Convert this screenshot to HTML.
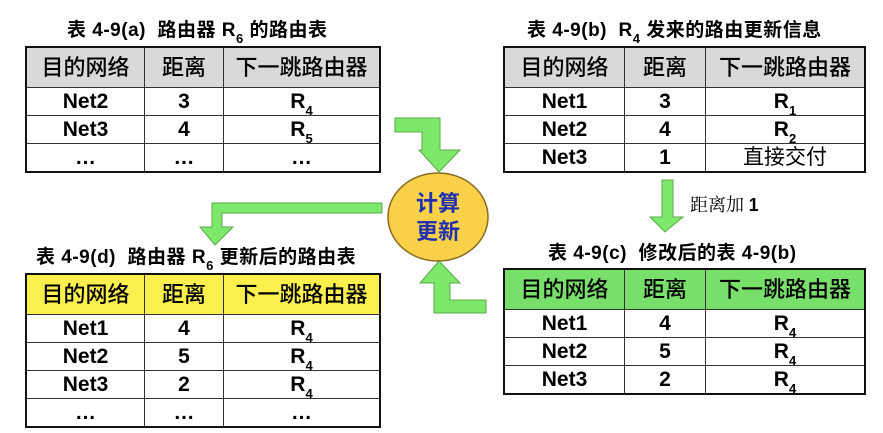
<!DOCTYPE html>
<html><head><meta charset="utf-8"><style>
body{margin:0;width:883px;height:433px;background:#fff;position:relative;overflow:hidden;font-family:"Liberation Sans","Noto Sans CJK SC",sans-serif;}
.t{position:absolute;border-collapse:collapse;border:2px solid #111;}
.t td{border:1px solid #333;text-align:center;padding:0;font-weight:bold;font-size:21px;color:#000;line-height:1;}
.t tr.h td{font-weight:500;font-size:22px;height:39px;}
.t tr.r td{height:27px;}
.cap{position:absolute;font-size:19px;font-weight:bold;white-space:nowrap;letter-spacing:0.5px;}
sub{font-size:13px;vertical-align:-7px;line-height:0;}
</style></head><body>
<div class="cap" style="left:67px;top:15px">表 4-9(a)&nbsp; 路由器 R<sub>6</sub> 的路由表</div>
<table class="t" style="left:25px;top:46px;width:356px">
<tr class="h" style="background:#d9d9d9"><td style="width:117px">目的网络</td><td style="width:78px">距离</td><td>下一跳路由器</td></tr>
<tr class="r"><td>Net2</td><td>3</td><td>R<sub>4</sub></td></tr>
<tr class="r"><td>Net3</td><td>4</td><td>R<sub>5</sub></td></tr>
<tr class="r"><td>…</td><td>…</td><td>…</td></tr>
</table>
<div class="cap" style="left:527px;top:15px">表 4-9(b)&nbsp; R<sub>4</sub> 发来的路由更新信息</div>
<table class="t" style="left:503px;top:46px;width:363px">
<tr class="h" style="background:#d9d9d9"><td style="width:119px">目的网络</td><td style="width:80px">距离</td><td>下一跳路由器</td></tr>
<tr class="r"><td>Net1</td><td>3</td><td>R<sub>1</sub></td></tr>
<tr class="r"><td>Net2</td><td>4</td><td>R<sub>2</sub></td></tr>
<tr class="r"><td>Net3</td><td>1</td><td style="font-weight:normal">直接交付</td></tr>
</table>
<div class="cap" style="left:548px;top:238px">表 4-9(c)&nbsp; 修改后的表 4-9(b)</div>
<table class="t" style="left:503px;top:268px;width:363px">
<tr class="h" style="background:#78e06a"><td style="width:119px">目的网络</td><td style="width:80px">距离</td><td>下一跳路由器</td></tr>
<tr class="r"><td>Net1</td><td>4</td><td>R<sub>4</sub></td></tr>
<tr class="r"><td>Net2</td><td>5</td><td>R<sub>4</sub></td></tr>
<tr class="r"><td>Net3</td><td>2</td><td>R<sub>4</sub></td></tr>
</table>
<div class="cap" style="left:36px;top:242px">表 4-9(d)&nbsp; 路由器 R<sub>6</sub> 更新后的路由表</div>
<table class="t" style="left:25px;top:273px;width:356px">
<tr class="h" style="background:#fbf04e"><td style="width:117px">目的网络</td><td style="width:78px">距离</td><td>下一跳路由器</td></tr>
<tr class="r"><td>Net1</td><td>4</td><td>R<sub>4</sub></td></tr>
<tr class="r"><td>Net2</td><td>5</td><td>R<sub>4</sub></td></tr>
<tr class="r"><td>Net3</td><td>2</td><td>R<sub>4</sub></td></tr>
<tr class="r"><td>…</td><td>…</td><td>…</td></tr>
</table>
<svg width="883" height="433" style="position:absolute;left:0;top:0">
<g fill="#7ee86a" stroke="#5aa84a" stroke-width="1">
<polygon points="395,118 440,118 440,150 460,150 439,172 419,150 422,150 422,132 395,132"/>
<polygon points="486,313 434,313 434,283 420,283 439,261 460,283 450,283 450,300 486,300"/>
<polygon points="382,203 212,203 212,227 200,227 215,245 233,227 222,227 222,213 382,213"/>
<polygon points="662,180 673,180 673,217 683,217 665,232 650,217 662,217"/>
</g>
<ellipse cx="438" cy="217" rx="50" ry="44" fill="#f8d148" stroke="#8a6a20" stroke-width="1.5"/>
<text x="438" y="211" text-anchor="middle" font-family="Noto Sans CJK SC,sans-serif" font-weight="bold" font-size="22" fill="#2030b0">计算</text>
<text x="438" y="239" text-anchor="middle" font-family="Noto Sans CJK SC,sans-serif" font-weight="bold" font-size="22" fill="#2030b0">更新</text>
<text x="690" y="211" font-family="Noto Serif CJK SC,serif" font-size="18" fill="#000">距离加 <tspan font-family="Liberation Sans" font-weight="bold">1</tspan></text>
</svg>
</body></html>
